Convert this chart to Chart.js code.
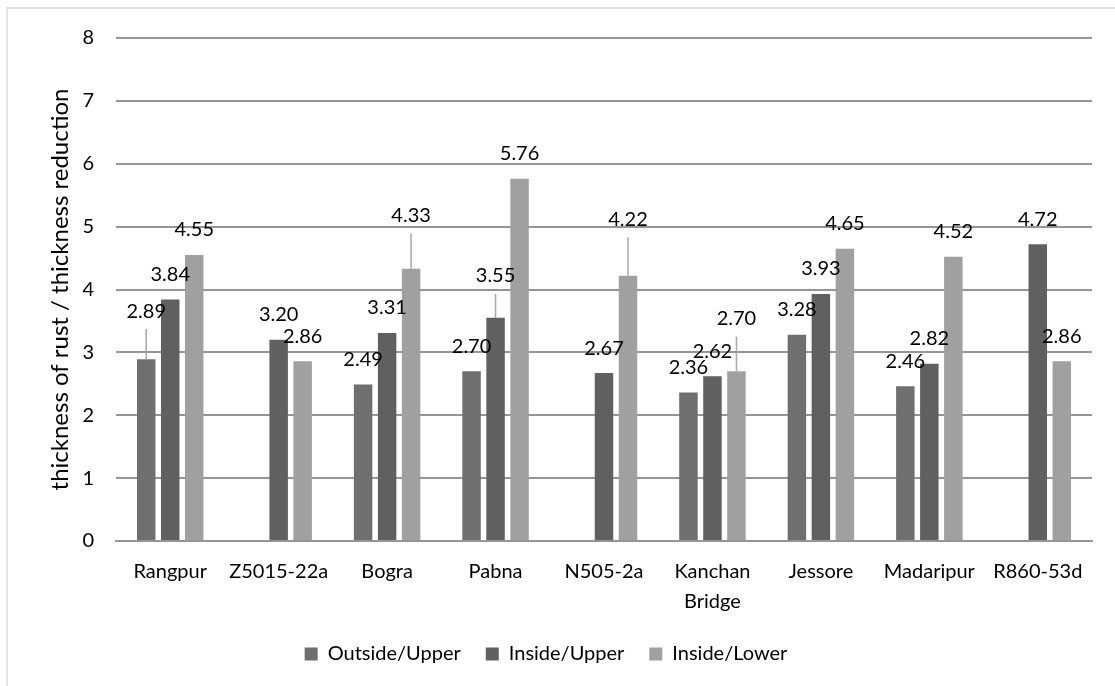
<!DOCTYPE html>
<html>
<head>
<meta charset="utf-8">
<script src="https://cdn.jsdelivr.net/npm/chart.js@4/dist/chart.umd.min.js"></script>
<style>
  html, body { margin: 0; padding: 0; background: #fff; overflow: hidden; }
  #frame { position: absolute; left: 6px; top: 7px; width: 1200px; height: 800px;
           border: 2px solid #e2e2e2; box-sizing: border-box; }
  #wrap { position: absolute; left: 0; top: 0; width: 1115px; height: 686px; }
</style>
</head>
<body>
<div id="frame"></div>
<div id="wrap"><canvas id="c" width="1115" height="686"></canvas></div>
<script>
// Sites along the x axis
const categories = ['Rangpur', 'Z5015-22a', 'Bogra', 'Pabna', 'N505-2a',
                    ['Kanchan', 'Bridge'], 'Jessore', 'Madaripur', 'R860-53d'];

// Measured ratios per site (null = not measured)
const outsideUpper = [2.89, null, 2.49, 2.70, null, 2.36, 3.28, 2.46, null];
const insideUpper  = [3.84, 3.20, 3.31, 3.55, 2.67, 2.62, 3.93, 2.82, 4.72];
const insideLower  = [4.55, 2.86, 4.33, 5.76, 4.22, 2.70, 4.65, 4.52, 2.86];

// Upper error extents (0 = none shown)
const outsideUpperErr = [0.48, 0, 0, 0, 0, 0, 0, 0, 0];
const insideUpperErr  = [0, 0, 0, 0.38, 0, 0, 0, 0, 0];
const insideLowerErr  = [0, 0, 0.56, 0, 0.61, 0.55, 0, 0, 0];

// Y axis ticks
const yTicks = [0, 1, 2, 3, 4, 5, 6, 7, 8];

const FONT = { family: 'Lato, "Open Sans", sans-serif', size: 20 };
const TITLE_FONT = { family: 'Lato, "Open Sans", sans-serif', size: 24 };
const TEXT = '#000000';

// Draws the upward error whiskers and the value labels above each bar
const barAnnotations = {
  id: 'barAnnotations',
  afterDatasetsDraw(chart) {
    const ctx = chart.ctx;
    const y = chart.scales.y;
    ctx.save();
    chart.data.datasets.forEach((ds, di) => {
      const meta = chart.getDatasetMeta(di);
      meta.data.forEach((bar, i) => {
        const v = ds.data[i];
        if (v === null || v === undefined) return;
        const err = (ds.errors && ds.errors[i]) || 0;
        let labelY = y.getPixelForValue(v) - 25;
        if (err > 0) {
          const ePx = y.getPixelForValue(v + err);
          ctx.strokeStyle = '#a8a8a8';
          ctx.lineWidth = 1.5;
          ctx.beginPath();
          ctx.moveTo(bar.x, y.getPixelForValue(v));
          ctx.lineTo(bar.x, ePx);
          ctx.stroke();
          labelY = ePx - 18;
        }
        ctx.fillStyle = TEXT;
        ctx.font = `${FONT.size}px ${FONT.family}`;
        ctx.textAlign = 'center';
        ctx.textBaseline = 'middle';
        ctx.fillText(v.toFixed(2), bar.x, labelY);
      });
    });
    ctx.restore();
  }
};

const chart = new Chart(document.getElementById('c'), {
  type: 'bar',
  data: {
    labels: categories,
    datasets: [
      { label: 'Outside/Upper', data: outsideUpper, errors: outsideUpperErr, backgroundColor: '#6f6f6f' },
      { label: 'Inside/Upper',  data: insideUpper,  errors: insideUpperErr,  backgroundColor: '#606060' },
      { label: 'Inside/Lower',  data: insideLower,  errors: insideLowerErr,  backgroundColor: '#a0a0a0' }
    ]
  },
  options: {
    responsive: false,
    animation: false,
    layout: { padding: { top: 38, right: 23, left: 0, bottom: 12 } },
    datasets: { bar: { categoryPercentage: 0.664, barPercentage: 0.77 } },
    plugins: {
      legend: {
        position: 'bottom',
        labels: { boxWidth: 13, boxHeight: 13, padding: 25, font: FONT, color: TEXT }
      },
      tooltip: { enabled: false }
    },
    scales: {
      x: {
        grid: { display: false, drawTicks: false },
        border: { display: true, color: '#959595', width: 2 },
        ticks: { font: { ...FONT, lineHeight: 1.5 }, color: TEXT, padding: 16, maxRotation: 0, autoSkip: false },
        afterFit(s) { s.height = 78; }
      },
      y: {
        min: 0, max: 8,
        afterBuildTicks(s) { s.ticks = yTicks.map(v => ({ value: v })); },
        ticks: { font: FONT, color: TEXT, padding: 22 },
        grid: { color: '#959595', lineWidth: 2, drawTicks: false },
        border: { display: false },
        title: { display: true, text: 'thickness of rust / thickness reduction',
                 font: TITLE_FONT, color: TEXT, padding: { top: 46, bottom: 0 } },
        afterFit(s) { s.width = 116; }
      }
    }
  },
  plugins: [barAnnotations]
});
</script>
</body>
</html>
